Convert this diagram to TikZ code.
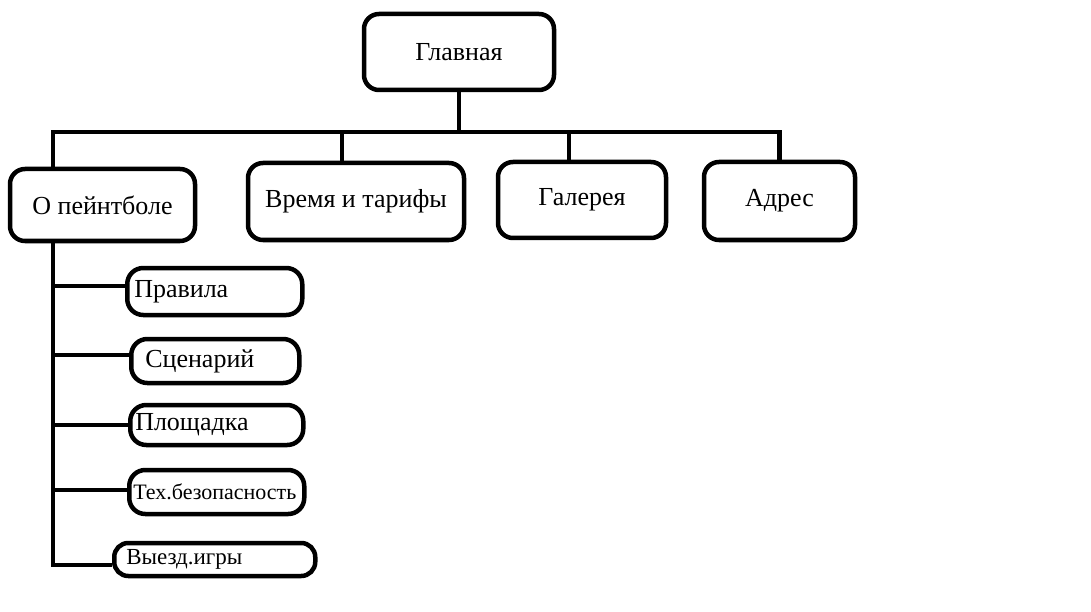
\documentclass[tikz,border=0pt]{standalone}
\usepackage{fontspec}
\setmainfont{Liberation Serif}
\usepackage{tikz}

\begin{document}
\begin{tikzpicture} [x=1pt,y=-1pt,line width=4.5pt,
  box/.style={draw,rounded corners=15pt,inner sep=2pt,font=\fontsize{26}{30}\selectfont},
  sub/.style={draw,rounded corners=16pt,anchor=west,align=left,inner ysep=2pt,font=\fontsize{26}{30}\selectfont}]
\useasboundingbox (0,0) rectangle (1091,612);
\node [box,minimum width=190pt,minimum height=76pt] (main) at (459,52) {Главная};
\node [box,minimum width=185pt,minimum height=72pt] (about) at (102.5,205) {О пейнтболе};
\node [box,minimum width=216pt,minimum height=77pt] (time) at (356,201.5) {Время и тарифы\\[4pt]};
\node [box,minimum width=168pt,minimum height=76pt] (gallery) at (582,200) {Галерея};
\node [box,minimum width=151pt,minimum height=78pt] (addr) at (779.5,201) {Адрес\\[4pt]};
\node [sub,inner xsep=7pt,text width=161pt,minimum height=47pt] (rules) at (125,291.5) {Правила};
\node [sub,inner xsep=14pt,text width=140pt,minimum height=44pt] (scen) at (129,361) {Сценарий};
\node [sub,inner xsep=5pt,text width=163pt,minimum height=40pt] (field) at (128,425) {Площадка};
\node [sub,inner xsep=4pt,text width=167pt,minimum height=44pt,font=\fontsize{22}{26}\selectfont] (safety) at (127,492) {Тех.безопасность};
\node [sub,inner xsep=12pt,text width=177pt,minimum height=33pt,rounded corners=14pt,font=\fontsize{23}{26}\selectfont] (trip) at (112,559.5) {Выезд.игры};
\coordinate (busL) at (53,132);
\coordinate (busR) at (779.5,132);
\coordinate (d2) at (342,132);
\coordinate (d3) at (569,132);
\coordinate (t1) at (53,286);
\coordinate (t2) at (53,355);
\coordinate (t3) at (53,425);
\coordinate (t4) at (53,490);
\coordinate (t5) at (53,565);
\draw (main.south) -- (main.south |- busL);
\draw (about.north -| busL) -- (busL) -- (busR) -- (addr.north);
\draw (d2) -- (d2 |- time.north);
\draw (d3) -- (d3 |- gallery.north);
\draw (about.south -| t5) -- (t5) -- (t5 -| trip.west);
\draw (t1) -- (t1 -| rules.west);
\draw (t2) -- (t2 -| scen.west);
\draw (t3) -- (t3 -| field.west);
\draw (t4) -- (t4 -| safety.west);
\end{tikzpicture}
\end{document}
